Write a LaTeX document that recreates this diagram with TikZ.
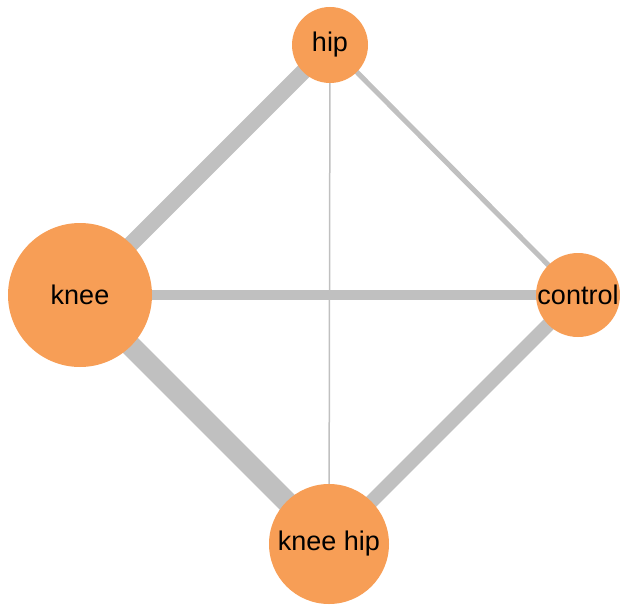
\documentclass[tikz,border=0pt]{standalone}
\usepackage{fontspec}
\setmainfont{Liberation Sans}
\usetikzlibrary{backgrounds}
\definecolor{nodeorange}{HTML}{F79E56}
\definecolor{edgegray}{HTML}{C0C0C0}
\begin{document}
\begin{tikzpicture}[x=1pt,y=-1pt,
  vnode/.style={circle,fill=nodeorange,draw=none,inner sep=0pt,text=black,font=\fontsize{27}{30}\selectfont},
  edge/.style={draw=edgegray}]
\useasboundingbox (0,0) rectangle (620,604);
\node[vnode,minimum size=76pt] (hip) at (330,45) {hip};
\node[vnode,minimum size=144pt] (knee) at (80,295) {knee};
\node[vnode,minimum size=84pt] (control) at (578,295) {control};
\node[vnode,minimum size=120pt] (kneehip) at (329,544) {knee hip};
\begin{pgfonlayer}{background}
\draw[edge,line width=16pt] (hip.center) -- (knee.center);
\draw[edge,line width=5pt] (hip.center) -- (control.center);
\draw[edge,line width=1.5pt] (hip.center) -- (kneehip.center);
\draw[edge,line width=10pt] (knee.center) -- (control.center);
\draw[edge,line width=21pt] (knee.center) -- (kneehip.center);
\draw[edge,line width=14pt] (control.center) -- (kneehip.center);
\end{pgfonlayer}
\end{tikzpicture}
\end{document}
